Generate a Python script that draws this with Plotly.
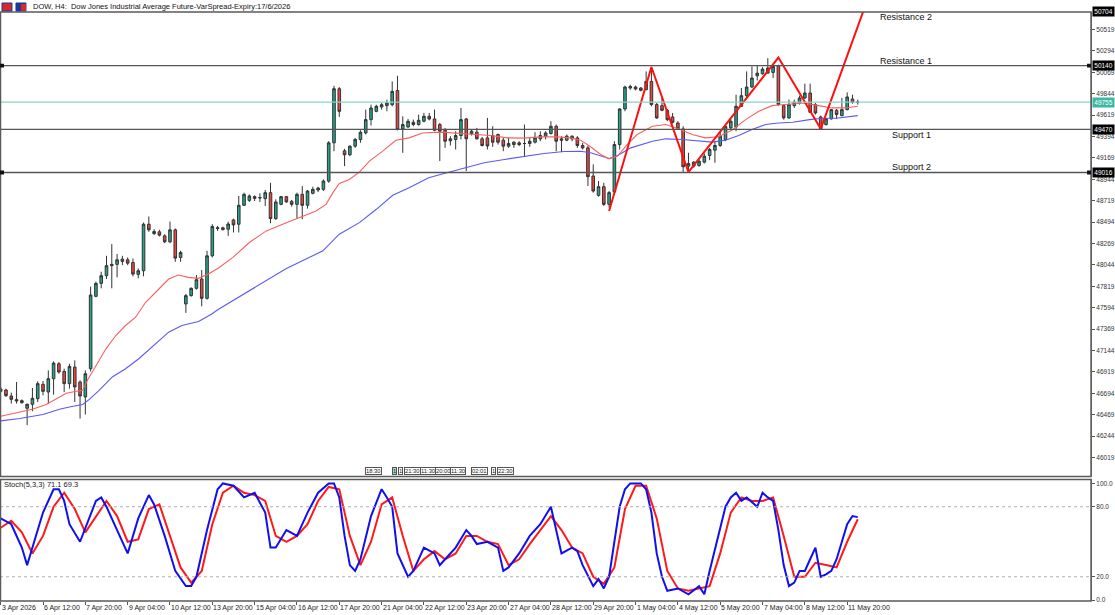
import plotly.graph_objects as go

W, H = 1115, 615

# ---------------- DATA ----------------
bars = list(range(163))
opens = [46715,46729,46666,46628,46617,46537,46579,46638,46789,46708,
         46848,47005,46925,46796,46970,46813,46656,46953,47714,47850,
         47931,48036,48050,48081,48098,48070,47945,47983,48472,48374,
         48392,48350,48287,48413,48123,47634,47721,47798,47896,47693,
         48140,48427,48434,48420,48517,48472,48671,48723,48762,48748,
         48741,48804,48531,48681,48762,48713,48681,48786,48671,48797,
         48832,48839,48926,49328,49897,49244,49202,49293,49363,49432,
         49572,49659,49705,49719,49729,49879,49474,49495,49544,49520,
         49555,49607,49579,49520,49460,49349,49363,49405,49579,49426,
         49440,49370,49380,49405,49415,49356,49293,49310,49328,49321,
         49321,49335,49370,49398,49426,49502,49370,49356,49370,49380,
         49300,49275,48979,48776,48867,48681,48811,49310,49684,49904,
         49915,49904,49887,49974,49730,49719,49670,49600,49537,49474,
         49083,49083,49090,49125,49195,49251,49300,49363,49485,49495,
         49712,49824,49915,50033,50054,50061,50068,50138,49719,49590,
         49719,49747,49800,49852,49730,49600,49520,49580,49670,49614,
         49677,49789,49754]
highs = [46760,46743,46701,46813,46631,46586,46750,46820,46823,46935,
         47030,47023,46953,47005,47040,46831,46935,47816,47868,47973,
         48140,48263,48158,48140,48123,48112,48008,48489,48553,48420,
         48413,48367,48500,48427,48193,47739,47808,47938,47990,48193,
         48472,48455,48447,48500,48531,48769,48804,48786,48776,48797,
         48832,48908,48734,48769,48769,48727,48804,48873,48832,48866,
         48866,48943,49345,49928,49914,49265,49300,49380,49460,49677,
         49729,49729,49747,49782,49974,50033,49607,49579,49572,49624,
         49642,49642,49677,49537,49485,49398,49450,49695,49590,49467,
         49485,49390,49590,49502,49426,49380,49380,49345,49345,49520,
         49380,49440,49450,49450,49555,49520,49398,49415,49405,49398,
         49328,49300,49101,48926,48908,48821,49345,49694,49929,49939,
         49929,49915,50079,50096,49747,49810,49684,49642,49555,49502,
         49223,49136,49153,49216,49275,49345,49450,49520,49580,49834,
         49904,50079,50131,50138,50124,50218,50149,50149,49730,49782,
         49782,49824,49950,49950,49747,49614,49590,49684,49684,49800,
         49859,49834,49782]
lows = [46700,46656,46586,46586,46586,46359,46506,46603,46673,46586,
        46680,46900,46708,46743,46603,46429,46471,46925,47704,47798,
        47896,47798,47913,48042,48042,47924,47903,47924,48392,48357,
        48343,48273,48273,48077,48077,47540,47711,47784,47609,47679,
        48123,48402,48405,48350,48385,48385,48664,48706,48716,48706,
        48664,48482,48517,48671,48699,48657,48531,48524,48636,48786,
        48810,48821,48908,49240,49600,49083,49188,49275,49328,49415,
        49509,49649,49677,49659,49712,49460,49223,49485,49502,49509,
        49544,49565,49450,49136,49275,49300,49258,49363,49031,49405,
        49363,49290,49258,49286,49310,49240,49275,49275,49293,49188,
        49286,49321,49345,49363,49415,49240,49230,49345,49345,49275,
        49258,48874,48804,48762,48664,48646,48804,49258,49660,49887,
        49880,49869,49880,49712,49579,49660,49555,49530,49467,49020,
        49013,49066,49076,49111,49146,49118,49286,49345,49470,49450,
        49705,49810,49904,49984,50044,50054,50009,49719,49572,49579,
        49695,49730,49789,49642,49625,49467,49509,49572,49579,49607,
        49670,49740,49730]
closes = [46740,46670,46631,46614,46596,46579,46642,46796,46715,46848,
          47012,46918,46796,46977,46761,46666,46900,47728,47850,47931,
          48036,48050,48098,48105,48063,47948,47983,48472,48413,48395,
          48357,48287,48413,48116,48175,47721,47798,47889,47693,48140,
          48448,48434,48416,48475,48465,48671,48786,48769,48744,48752,
          48804,48531,48706,48762,48706,48681,48786,48671,48821,48839,
          48852,48926,49328,49897,49659,49202,49293,49363,49439,49572,
          49694,49712,49729,49747,49869,49467,49520,49555,49520,49565,
          49607,49579,49460,49450,49345,49370,49405,49572,49370,49450,
          49370,49300,49295,49335,49335,49293,49321,49335,49310,49321,
          49345,49380,49405,49432,49502,49345,49356,49398,49398,49300,
          49275,48972,48821,48867,48681,48804,49310,49684,49915,49921,
          49894,49880,49974,49730,49590,49670,49572,49544,49474,49076,
          49111,49125,49135,49188,49258,49300,49398,49502,49555,49712,
          49824,49915,50009,50061,50103,50114,50131,49730,49590,49730,
          49754,49800,49852,49649,49642,49474,49580,49677,49625,49677,
          49810,49754,49755]

# moving averages (at bar positions)
ma_red_x = [0,3,6,8.6,10.5,12.4,14.3,15.5,16.4,18,19.9,21.75,23.6,25.5,27.4,29.9,31.75,33.6,35.5,37.4,39.25,
            41.1,43.9,47,50.2,53.3,56.4,59.6,61.5,62.8,64,65.9,67.8,69.7,72.2,74.7,77.2,79.7,
            83.2,86.4,89.5,92.6,95.8,98.9,102,105.2,107.7,109.6,111.5,113.4,115,116.6,118.4,120.3,
            123.2,125.7,128.2,130.7,133.2,135.7,138.2,140.8,143.3,145.8,147,149.6,152,154.6,157.1,159.6,162]
ma_red_y = [46453,46492,46527,46576,46638,46694,46715,46726,46831,46988,47162,47302,47407,47494,47651,47791,47896,47938,47913,47903,47948,
            48010,48123,48280,48402,48472,48542,48611,48681,48804,48901,48943,49020,49135,49240,49355,49380,49432,
            49440,49426,49415,49405,49380,49377,49391,49391,49380,49356,49286,49206,49160,49188,49310,49415,
            49502,49520,49474,49415,49380,49391,49460,49572,49660,49719,49726,49736,49747,49719,49695,49695,49712]
ma_blue_x = [0,3.6,8,11.1,13,15.5,16.75,18.6,21.1,23.6,26.1,29.25,31.75,34.25,37.4,39.9,41.1,
             54,57.7,60.9,64,67.8,71,74.1,77.2,80.9,
             83.8,87.6,91.4,95.2,98.9,102.7,106.5,109.6,111.5,113.4,115,116.6,119.1,
             123.2,125.7,128.8,132,134.5,137,139.5,142,144.6,147,149.7,152.9,155.4,157.9,160.4,162]
ma_blue_y = [46404,46429,46471,46527,46551,46576,46631,46726,46866,46953,47058,47215,47337,47407,47449,47529,47575,
             48007,48105,48192,48367,48489,48629,48776,48856,48961,
             49006,49066,49118,49153,49188,49216,49237,49240,49223,49188,49164,49195,49275,
             49345,49370,49363,49345,49335,49356,49405,49468,49520,49537,49544,49572,49586,49586,49600,49614]

# zig-zag pattern line
zz_x = [115, 123, 130, 147, 155, 163]
zz_y = [48612, 50125, 49020, 50225, 49475, 50704]

# levels
lv_res2, lv_res1, lv_sup1, lv_sup2, lv_last = 50704, 50140, 49470, 49016, 49755

# stochastic (5,3,3)
k_x = [0,2,4,5,6,8,10,11,12,13,15,16,18,19,20,22,24,26,28,29,31,33,35,36,37,39,41,42,44,46,48,50,51,52,54,56,58,60,62,63,64,
       65,66,67,68,70,72,73,74,75,77,78,80,82,83,84,86,88,89,90,92,94,95,96,98,100,102,104,105,106,108,109,110,112,113,114,
       115,116,117,118,119,121,122,123,124,125,126,128,130,132,133,134,136,137,138,139,140,141,143,144,145,146,147,148,149,
       150,151,152,153,154,155,156,157,158,159,160,161,162]
k_y = [70,65,45,30,45,75,95,95,85,65,50,62,85,88,80,60,40,70,90,82,55,25,12,12,20,60,95,100,98,88,92,75,45,45,60,55,75,92,100,100,88,
       55,30,25,35,72,95,88,80,40,20,25,45,40,30,35,45,60,55,48,50,45,25,28,40,55,65,80,60,40,45,42,30,12,18,10,
       20,50,80,95,100,100,95,75,40,20,8,10,5,12,5,25,60,80,88,92,85,88,80,92,88,85,60,30,12,
       15,25,25,35,45,20,22,25,35,50,65,72,71.1]
d_x = [0,2,4,6,8,10,12,14,16,18,20,22,24,26,28,30,32,34,36,38,40,42,44,46,48,50,52,54,56,58,60,62,64,66,68,70,72,74,76,78,80,
       82,84,86,88,90,92,94,96,98,100,102,104,106,108,110,112,114,116,118,120,122,124,126,128,130,132,134,136,138,140,142,
       144,146,148,150,152,154,156,158,160,162]
d_y = [62,68,58,40,55,80,92,78,58,72,85,72,50,52,78,82,55,28,15,25,65,92,98,92,90,85,55,50,55,65,85,97,95,55,30,50,82,88,55,25,35,
       42,35,40,55,55,50,48,30,35,48,60,72,60,45,40,20,14,28,78,98,98,70,25,10,8,10,12,40,75,88,85,
       85,88,55,20,20,32,30,28,50,69.3]

price_ticks = [46019 + 225 * k for k in range(21)]
time_ticks = list(range(0, 161, 8))
time_labels = ["3 Apr 2026", "6 Apr 12:00", "7 Apr 20:00", "9 Apr 04:00", "10 Apr 12:00", "13 Apr 20:00",
               "15 Apr 04:00", "16 Apr 12:00", "17 Apr 20:00", "21 Apr 04:00", "22 Apr 12:00", "23 Apr 20:00",
               "27 Apr 04:00", "28 Apr 12:00", "29 Apr 20:00", "1 May 04:00", "4 May 12:00", "5 May 20:00",
               "7 May 04:00", "8 May 12:00", "11 May 20:00"]
event_labels = ["18:30", "1", "1", "21:30", "11:30", "20:00", "11:30", "02:01", "1", "22:30"]

# ---------------- LAYOUT HELPERS ----------------
def xp(px):
    return px / W

def yp(py):
    return 1 - py / H

PLOT_R = 1093
MAIN_TOP, MAIN_BOT = 12, 478
ST_TOP, ST_BOT = 481, 603
FONT = "Liberation Sans, Arial, sans-serif"
xr = [-0.13, (PLOT_R - 0.7) / 5.3]

fig = go.Figure()

fig.add_trace(go.Candlestick(
    x=bars, open=opens, high=highs, low=lows, close=closes,
    increasing=dict(fillcolor="#1fa58c", line=dict(color="#333333", width=1)),
    decreasing=dict(fillcolor="#e8453f", line=dict(color="#333333", width=1)),
    whiskerwidth=0, xaxis="x", yaxis="y", showlegend=False, hoverinfo="skip"))

fig.add_trace(go.Scatter(x=ma_blue_x, y=ma_blue_y, mode="lines", line=dict(color="#5a5af5", width=1.1),
                         xaxis="x", yaxis="y", showlegend=False, hoverinfo="skip"))
fig.add_trace(go.Scatter(x=ma_red_x, y=ma_red_y, mode="lines", line=dict(color="#f86060", width=1.1),
                         xaxis="x", yaxis="y", showlegend=False, hoverinfo="skip"))
fig.add_trace(go.Scatter(x=zz_x, y=zz_y, mode="lines", line=dict(color="#ff1010", width=2),
                         xaxis="x", yaxis="y", showlegend=False, hoverinfo="skip", cliponaxis=True))

fig.add_trace(go.Scatter(x=d_x, y=d_y, mode="lines", line=dict(color="#ff1a1a", width=2),
                         xaxis="x2", yaxis="y2", showlegend=False, hoverinfo="skip"))
fig.add_trace(go.Scatter(x=k_x, y=k_y, mode="lines", line=dict(color="#1010ee", width=2),
                         xaxis="x2", yaxis="y2", showlegend=False, hoverinfo="skip"))

shapes = []
# level lines
for lv, col, wd in [(lv_res1, "#555555", 1.3), (lv_sup1, "#555555", 1.3), (lv_sup2, "#555555", 1.3),
                    (lv_last, "#86d4c6", 1.3)]:
    shapes.append(dict(type="line", xref="paper", yref="y", x0=0, x1=xp(PLOT_R), y0=lv, y1=lv,
                       line=dict(color=col, width=wd)))
# stochastic level lines
for lv in [20, 80]:
    shapes.append(dict(type="line", xref="paper", yref="y2", x0=0, x1=xp(PLOT_R), y0=lv, y1=lv,
                       line=dict(color="#b0b0b0", width=1, dash="dot")))
# pane borders
for top, bot in [(MAIN_TOP, MAIN_BOT), (ST_TOP, ST_BOT)]:
    shapes.append(dict(type="rect", xref="paper", yref="paper", x0=xp(0.5), x1=xp(PLOT_R),
                       y0=yp(bot), y1=yp(top), line=dict(color="#5a5a5a", width=1.5)))
# title icons
shapes.append(dict(type="rect", xref="paper", yref="paper", x0=xp(2), x1=xp(12), y0=yp(11), y1=yp(3),
                   fillcolor="#d42a2a", line=dict(color="#1a3a9a", width=1)))
shapes.append(dict(type="rect", xref="paper", yref="paper", x0=xp(16), x1=xp(26), y0=yp(11), y1=yp(3),
                   fillcolor="#1a3a9a", line=dict(color="#1a3a9a", width=1)))
shapes.append(dict(type="rect", xref="paper", yref="paper", x0=xp(21), x1=xp(26), y0=yp(11), y1=yp(4),
                   fillcolor="#d42a2a", line=dict(width=0)))
# small level markers
for lv in [lv_res1, lv_sup2]:
    shapes.append(dict(type="rect", xref="paper", yref="y", x0=xp(0), x1=xp(4), y0=lv - 20, y1=lv + 20,
                       fillcolor="#111111", line=dict(width=0)))
    shapes.append(dict(type="rect", xref="paper", yref="y", x0=xp(PLOT_R - 4), x1=xp(PLOT_R), y0=lv - 20, y1=lv + 20,
                       fillcolor="#111111", line=dict(width=0)))

annotations = []
annotations.append(dict(xref="paper", yref="paper", x=xp(31), y=yp(7), xanchor="left", yanchor="middle",
                        text="DOW, H4:  Dow Jones Industrial Average Future-VarSpread-Expiry:17/6/2026",
                        showarrow=False, font=dict(size=7.5, color="#111111", family=FONT)))
annotations.append(dict(xref="paper", yref="paper", x=xp(2), y=yp(486), xanchor="left", yanchor="middle",
                        text="Stoch(5,3,3) 71.1 69.3", showarrow=False,
                        font=dict(size=7.5, color="#222222", family=FONT)))
for txt, lv, dy in [("Resistance 2", lv_res2, 5), ("Resistance 1", lv_res1, -5),
                    ("Support 1", lv_sup1, 6), ("Support 2", lv_sup2, -5)]:
    xx = 880 if txt.startswith("Res") else 892
    annotations.append(dict(xref="paper", yref="y", x=xp(xx), y=lv, xanchor="left",
                            yanchor="middle", yshift=-dy, text=txt, showarrow=False,
                            font=dict(size=9, color="#111111", family=FONT)))
# highlighted price labels
for lv, bg in [(lv_res2, "#000000"), (lv_res1, "#000000"), (lv_last, "#3cb8a2"),
               (lv_sup1, "#000000"), (lv_sup2, "#000000")]:
    annotations.append(dict(xref="paper", yref="y", x=xp(PLOT_R + 1), y=lv, xanchor="left", yanchor="middle",
                            text=str(lv), showarrow=False, bgcolor=bg, borderpad=1, width=19,
                            font=dict(size=6.5, color="#ffffff", family=FONT)))
# time labels
for t, lab in zip(time_ticks, time_labels):
    annotations.append(dict(xref="x2", yref="paper", x=t, y=yp(609.5), xanchor="left", yanchor="middle",
                            xshift=-1, text=lab, showarrow=False,
                            font=dict(size=7, color="#222222", family=FONT)))
# event markers
ev_x = [366, 393, 399, 405, 421, 436, 451, 472, 492, 498]
for ex, lab in zip(ev_x, event_labels):
    annotations.append(dict(xref="paper", yref="paper", x=xp(ex), y=yp(473), xanchor="left", yanchor="middle",
                            text=lab, showarrow=False, bordercolor="#555555", borderwidth=1, borderpad=0,
                            bgcolor="#ffffff" if lab != "1" or ex != 393 else "#9fdcd0",
                            font=dict(size=5.8, color="#222222", family=FONT)))

fig.update_layout(
    width=W, height=H, margin=dict(l=0, r=0, t=0, b=0),
    paper_bgcolor="#ffffff", plot_bgcolor="#ffffff",
    showlegend=False,
    font=dict(family=FONT, size=7, color="#222222"),
    xaxis=dict(domain=[0, xp(PLOT_R)], range=xr, anchor="y", showticklabels=False, showgrid=False,
               zeroline=False, rangeslider=dict(visible=False), fixedrange=True),
    xaxis2=dict(domain=[0, xp(PLOT_R)], range=xr, anchor="y2", showticklabels=False, showgrid=False,
                zeroline=False, ticks="outside", tickvals=time_ticks, ticklen=3, tickcolor="#555555"),
    yaxis=dict(domain=[yp(MAIN_BOT), yp(MAIN_TOP)], range=[45820, 50704], anchor="x", side="right",
               tickvals=price_ticks, ticktext=[str(v) for v in price_ticks], ticks="outside", ticklen=3,
               tickcolor="#555555", showgrid=False, zeroline=False, showline=True, linecolor="#777777",
               tickfont=dict(size=6.5, color="#333333", family=FONT)),
    yaxis2=dict(domain=[yp(ST_BOT), yp(ST_TOP)], range=[-0.8, 103.4], anchor="x2", side="right",
                tickvals=[0, 20, 80, 100], ticktext=["0.0", "20.0", "80.0", "100.0"], ticks="outside",
                ticklen=3, tickcolor="#555555", showgrid=False, zeroline=False, showline=True,
                linecolor="#777777", tickfont=dict(size=6.5, color="#333333", family=FONT)),
    shapes=shapes, annotations=annotations,
)

fig.write_html("out.html")
